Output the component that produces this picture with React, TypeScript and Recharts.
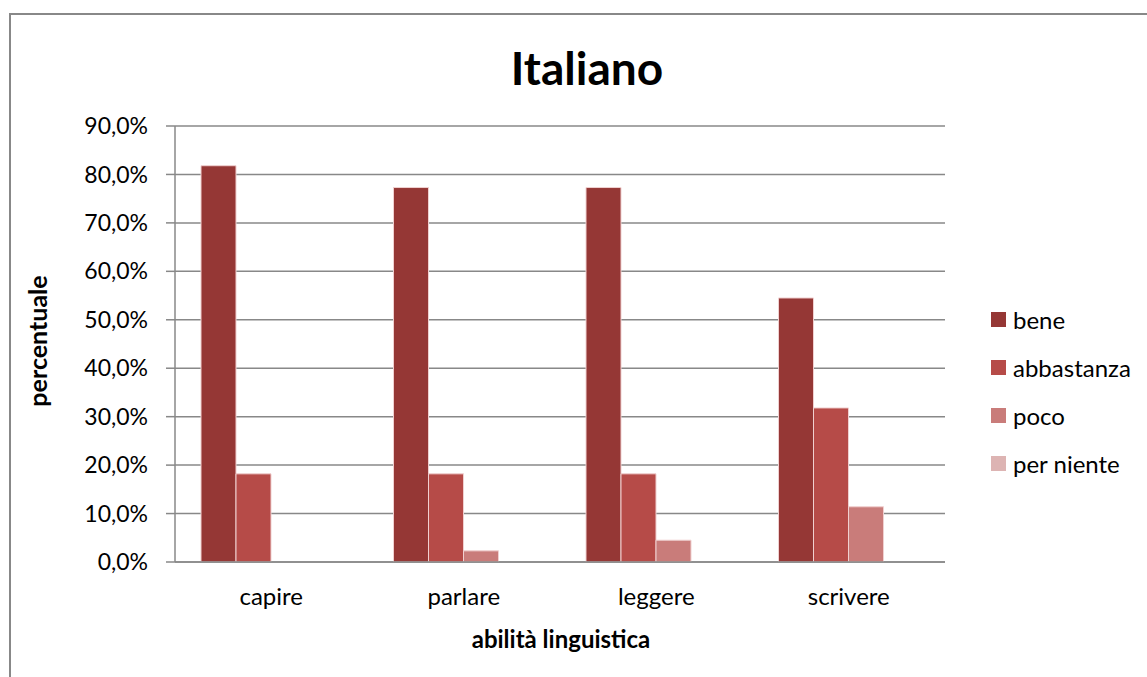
import React from 'react';
import { BarChart, Bar, XAxis, YAxis, CartesianGrid } from 'recharts';

const categories = ['capire', 'parlare', 'leggere', 'scrivere'];
const bene = [81.8, 77.3, 77.3, 54.5];
const abbastanza = [18.2, 18.2, 18.2, 31.8];
const poco = [0, 2.3, 4.5, 11.4];
const perNiente = [0, 0, 0, 0];
const yTicks = [0, 10, 20, 30, 40, 50, 60, 70, 80, 90];

const series = [
  { key: 'bene', name: 'bene', color: '#953735' },
  { key: 'abbastanza', name: 'abbastanza', color: '#B64B48' },
  { key: 'poco', name: 'poco', color: '#C97C7A' },
  { key: 'perNiente', name: 'per niente', color: '#DDB4B3' },
];

const data = categories.map((c, i) => ({
  category: c,
  bene: bene[i],
  abbastanza: abbastanza[i],
  poco: poco[i],
  perNiente: perNiente[i],
}));

const font = 'Lato, "Open Sans", sans-serif';
const fmt = (v: number) => `${v.toFixed(1).replace('.', ',')}%`;

function LegendBox() {
  return (
    <div style={{ position: 'absolute', left: 991, top: 295, fontFamily: font, fontSize: 24, color: '#000' }}>
      {series.map((s) => (
        <div key={s.key} style={{ display: 'flex', alignItems: 'center', height: 48 }}>
          <span style={{ width: 15, height: 15, background: s.color, display: 'inline-block', marginRight: 7 }} />
          <span>{s.name}</span>
        </div>
      ))}
    </div>
  );
}

export default function App() {
  return (
    <div style={{ position: 'fixed', left: 0, top: 0, width: 1147, height: 677, background: '#fff', overflow: 'hidden' }}>
      <div style={{ position: 'absolute', left: 9, top: 13, width: 1200, height: 720, border: '2px solid #888', boxSizing: 'border-box' }} />
      <div style={{ position: 'absolute', left: 0, width: 1174, top: 40, textAlign: 'center', fontFamily: font, fontWeight: 700, fontSize: 46, lineHeight: '56px' }}>
        Italiano
      </div>
      <div style={{ position: 'absolute', left: 37, top: 341, transform: 'translate(-50%, -50%) rotate(-90deg)', fontFamily: font, fontWeight: 700, fontSize: 25, whiteSpace: 'nowrap' }}>
        percentuale
      </div>
      <div style={{ position: 'absolute', left: 175, width: 772, top: 624, textAlign: 'center', fontFamily: font, fontWeight: 700, fontSize: 24, lineHeight: '30px' }}>
        abilità linguistica
      </div>
      <BarChart
        width={1147}
        height={677}
        data={data}
        margin={{ top: 126, right: 202, left: 95, bottom: 85 }}
        barCategoryGap={26}
        barGap={0}
        style={{ position: 'absolute', left: 0, top: 0 }}
      >
        <CartesianGrid vertical={false} stroke="#888" strokeWidth={1.5} />
        <XAxis
          dataKey="category"
          height={30}
          tickLine={false}
          tickSize={0}
          tickMargin={26}
          axisLine={{ stroke: '#888', strokeWidth: 1.5 }}
          tick={{ fill: '#000', fontSize: 24, fontFamily: font }}
        />
        <YAxis
          width={80}
          domain={[0, 90]}
          ticks={yTicks}
          tickFormatter={fmt}
          tickSize={9}
          tickMargin={18}
          interval={0}
          allowDataOverflow
          axisLine={{ stroke: '#888', strokeWidth: 1.5 }}
          tickLine={{ stroke: '#888', strokeWidth: 1.5 }}
          tick={{ fill: '#000', fontSize: 23, fontFamily: font }}
        />
        {series.map((s) => (
          <Bar
            key={s.key}
            dataKey={s.key}
            name={s.name}
            fill={s.color}
            stroke="#f0d0d0"
            strokeWidth={1}
            isAnimationActive={false}
          />
        ))}
      </BarChart>
      <LegendBox />
    </div>
  );
}
